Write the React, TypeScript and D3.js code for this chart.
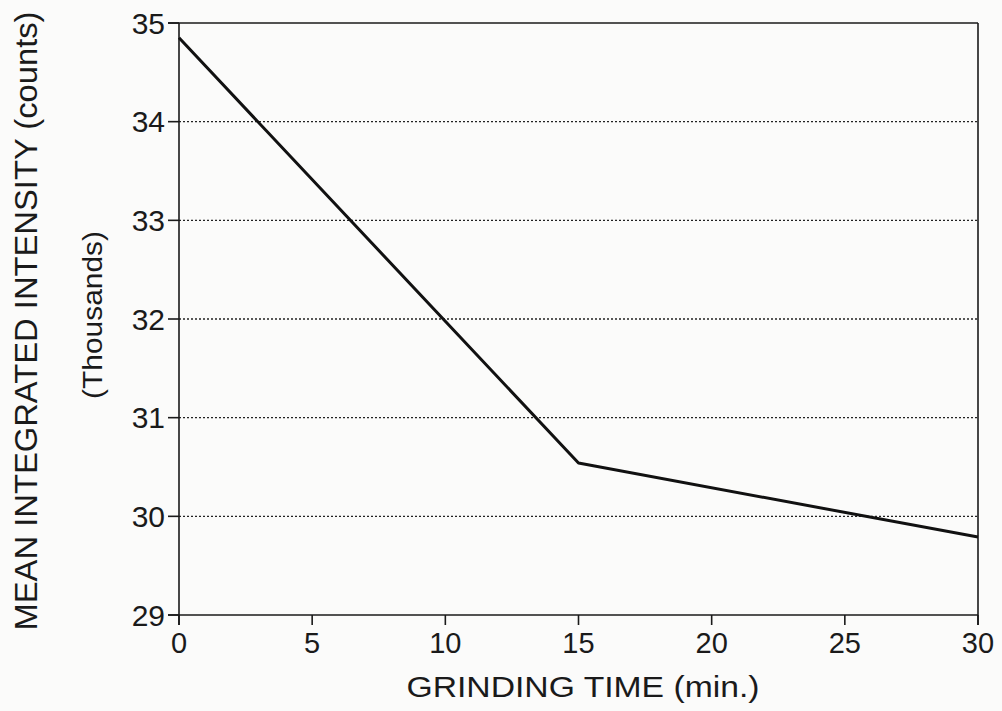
import React from "react";
import * as d3 from "d3";

const grindTime = [0, 15, 30];
const intensity = [34.85, 30.54, 29.79];
const xTicks = [0, 5, 10, 15, 20, 25, 30];
const yTicks = [29, 30, 31, 32, 33, 34, 35];
const gridValues = [30, 31, 32, 33, 34];
const xTitle = "GRINDING TIME (min.)";
const yTitle = "MEAN INTEGRATED INTENSITY (counts)";
const yTitle2 = "(Thousands)";

export default function App() {
  const W = 1002, H = 711;
  const left = 179, right = 978, top = 23, bottom = 615;
  const x = d3.scaleLinear().domain([0, 30]).range([left, right]);
  const y = d3.scaleLinear().domain([29, 35]).range([bottom, top]);
  const line = d3.line<number>().x((_, i) => x(grindTime[i])).y((d) => y(d));
  const font = "'Liberation Sans', Arial, sans-serif";
  const ink = "#1a1a1a";
  return (
    <svg width={W} height={H} style={{ position: "absolute", left: 0, top: 0, background: "#fbfbfa" }}>
      {gridValues.map((v) => (
        <line key={v} x1={left} x2={right} y1={y(v)} y2={y(v)} stroke="#222" strokeWidth={1.4} strokeDasharray="2,2" />
      ))}
      <line x1={left} x2={left} y1={top} y2={bottom + 10} stroke={ink} strokeWidth={1.6} />
      <line x1={right} x2={right} y1={top} y2={bottom + 10} stroke={ink} strokeWidth={1.6} />
      <line x1={left - 11} x2={right} y1={top} y2={top} stroke={ink} strokeWidth={1.6} />
      <line x1={left - 11} x2={right} y1={bottom} y2={bottom} stroke={ink} strokeWidth={1.6} />
      {yTicks.map((v) => (
        <g key={v}>
          <line x1={left - 11} x2={left} y1={y(v)} y2={y(v)} stroke={ink} strokeWidth={1.6} />
          <text x={165} y={y(v)} dy="0.36em" textAnchor="end" fontFamily={font} fontSize={30} fill={ink}>{v}</text>
        </g>
      ))}
      {xTicks.map((v) => (
        <g key={v}>
          <line x1={x(v)} x2={x(v)} y1={bottom} y2={bottom + 10} stroke={ink} strokeWidth={1.6} />
          <text x={x(v)} y={653} textAnchor="middle" fontFamily={font} fontSize={29} fill={ink}>{v}</text>
        </g>
      ))}
      <path d={line(intensity) || ""} fill="none" stroke="#111" strokeWidth={3} strokeLinejoin="round" />
      <text x={583} y={697} textAnchor="middle" fontFamily={font} fontSize={30} fill={ink} textLength={353} lengthAdjust="spacingAndGlyphs">{xTitle}</text>
      <text transform="translate(37,321) rotate(-90)" textAnchor="middle" fontFamily={font} fontSize={31} fill={ink} textLength={619} lengthAdjust="spacingAndGlyphs">{yTitle}</text>
      <text transform="translate(102,315) rotate(-90)" textAnchor="middle" fontFamily={font} fontSize={28} fill={ink} textLength={168} lengthAdjust="spacingAndGlyphs">{yTitle2}</text>
    </svg>
  );
}
